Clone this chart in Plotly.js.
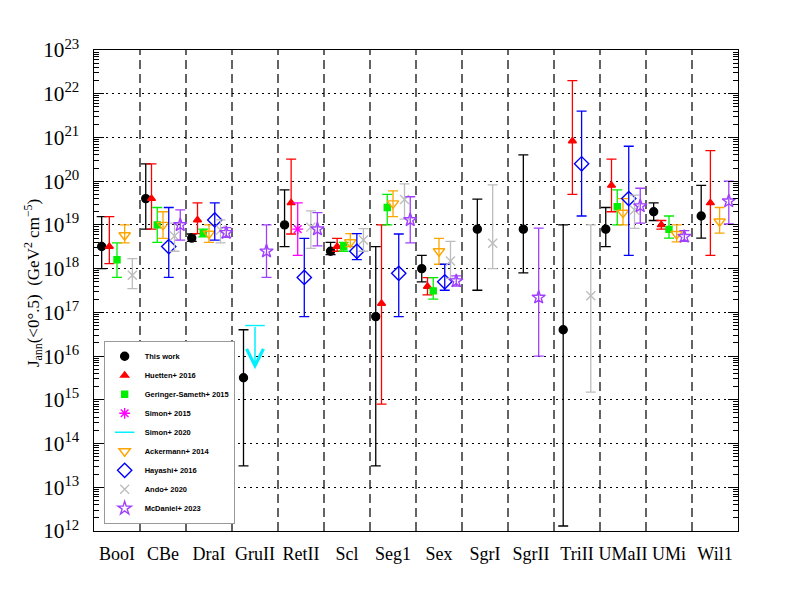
<!DOCTYPE html>
<html>
<head>
<meta charset="utf-8">
<script src="https://cdn.plot.ly/plotly-3.0.1.min.js"></script>
<style>
  body { margin: 0; background: #fff; }
  #chart { width: 792px; height: 612px; }
</style>
</head>
<body>
<div id="chart"></div>
<script>
// ── Data (null = no estimate for that galaxy) ───────────────────────────────

const categories = ['BooI', 'CBe', 'DraI', 'GruII', 'RetII', 'Scl', 'Seg1',
                    'Sex', 'SgrI', 'SgrII', 'TriII', 'UMaII', 'UMi', 'Wil1'];

const thisWork   = [3.2e18, 4.0e19, 5.0e18, 3.2e15, 1.0e19, 2.5e18, 8.0e16, 1.0e18, 8.0e18, 8.0e18, 4.0e16, 8.0e18, 2.0e19, 1.6e19];
const thisWorkLo = [1.0e18, 8.0e18, 4.2e18, 3.1e13, 3.2e18, 2.1e18, 3.1e13, 5.0e17, 3.2e17, 8.0e17, 1.3e12, 3.2e18, 1.26e19, 5.0e18];
const thisWorkHi = [1.55e19, 2.5e20, 6.2e18, 4.0e16, 6.3e19, 4.0e18, 3.2e18, 2.0e18, 3.9e19, 4.0e20, 1.0e19, 2.5e19, 3.2e19, 8.0e19];

const huetten   = [3.2e18, 4.0e19, 1.3e19, null, 3.2e19, 3.2e18, 1.6e17, 3.9e17, null, null, 8.3e20, 8.0e19, 1.0e19, 3.2e19];
const huettenLo = [1.3e18, 8.0e18, 6.3e18, null, 6.2e18, 2.5e18, 8.0e14, 2.5e17, null, null, 5.0e19, 2.0e19, 8.0e18, 2.0e18];
const huettenHi = [1.55e19, 2.5e20, 3.2e19, null, 3.2e20, 4.9e18, 1.0e19, 6.2e17, null, null, 2.0e22, 3.2e20, 1.26e19, 5.0e20];

const geringer   = [1.6e18, 1.0e19, 6.5e18, null, null, 3.2e18, 2.5e19, 3.1e17, null, null, null, 2.6e19, 7.9e18, null];
const geringerLo = [6.3e17, 4.0e18, 5.3e18, null, null, 2.5e18, 1.0e19, 2.0e17, null, null, null, 1.0e19, 5.0e18, null];
const geringerHi = [3.9e18, 2.5e19, 8.0e18, null, null, 4.0e18, 5.0e19, 6.2e17, null, null, null, 6.3e19, 1.6e19, null];

const simon15   = [null, null, null, null, 8.0e18, null, null, null, null, null, null, null, null, null];
const simon15Lo = [null, null, null, null, 2.0e18, null, null, null, null, null, null, null, null, null];
const simon15Hi = [null, null, null, null, 3.2e19, null, null, null, null, null, null, null, null, null];

// upper limit only
const simon20Ul = [null, null, null, 5.0e16, null, null, null, null, null, null, null, null, null, null];

const ackermann   = [5.8e18, 1.0e19, 6.3e18, null, null, 4.0e18, 3.1e19, 2.5e18, null, null, null, 1.9e19, 6.2e18, 1.2e19];
const ackermannLo = [3.9e18, 4.9e18, 4.0e18, null, null, 3.2e18, 1.55e19, 1.26e18, null, null, null, 1.0e19, 4.1e18, 6.5e18];
const ackermannHi = [1.0e19, 2.0e19, 1.0e19, null, null, 6.3e18, 6.0e19, 4.9e18, null, null, null, 4.0e19, 1.0e19, 2.5e19];

const hayashi   = [null, 3.2e18, 1.3e19, null, 6.3e17, 2.5e18, 7.8e17, 5.0e17, null, null, 2.5e20, 4.0e19, null, null];
const hayashiLo = [null, 6.3e17, 4.5e18, null, 8.0e16, 1.6e18, 8.0e16, 3.2e17, null, null, 1.6e19, 2.0e18, null, null];
const hayashiHi = [null, 2.5e19, 3.2e19, null, 4.9e18, 6.3e18, 6.2e18, 1.26e18, null, null, 4.0e21, 6.3e20, null, null];

const ando   = [7.1e17, 5.6e18, 7.6e18, null, 8.9e18, 4.5e18, 3.8e19, 1.5e18, 3.8e18, null, 2.4e17, 2.2e19, null, null];
const andoLo = [3.5e17, 2.5e18, 3.9e18, null, 2.9e18, 2.5e18, 1.35e19, 6.0e17, 1.0e18, null, 1.5e15, 8.3e18, null, null];
const andoHi = [1.7e18, 1.1e19, 1.3e19, null, 2.1e19, 8.2e18, 8.7e19, 4.2e18, 8.2e19, null, 1.0e19, 4.8e19, null, null];

const mcdaniel   = [null, 1.0e19, 6.6e18, 2.5e18, 8.0e18, null, 1.3e19, 5.2e17, null, 2.2e17, null, 2.7e19, 5.4e18, 3.5e19];
const mcdanielLo = [null, 4.5e18, 5.2e18, 6.3e17, 3.3e18, null, 3.9e18, 4.0e17, null, 1.0e16, null, 1.1e19, 4.2e18, 1.05e19];
const mcdanielHi = [null, 2.2e19, 8.7e18, 1.0e19, 1.9e19, null, 4.4e19, 6.8e17, null, 8.4e18, null, 6.9e19, 7.4e18, 1.0e20];

// ── Series styling (legend order = order inside each galaxy column) ────────

const SERIES = [
  { name: 'This work', val: thisWork, lo: thisWorkLo, hi: thisWorkHi,
    color: '#000000', symbol: 'circle', size: 8 },
  { name: 'Huetten+ 2016', val: huetten, lo: huettenLo, hi: huettenHi,
    color: '#ff0000', symbol: 'triangle-up', size: 7 },
  { name: 'Geringer-Sameth+ 2015', val: geringer, lo: geringerLo, hi: geringerHi,
    color: '#00ee00', symbol: 'square', size: 6 },
  { name: 'Simon+ 2015', val: simon15, lo: simon15Lo, hi: simon15Hi,
    color: '#ff00ff', symbol: 'asterisk-open', size: 9 },
  { name: 'Simon+ 2020', val: simon20Ul, upper: true,
    color: '#00f0ff', symbol: 'line-ew-open', size: 14 },
  { name: 'Ackermann+ 2014', val: ackermann, lo: ackermannLo, hi: ackermannHi,
    color: '#ffa500', symbol: 'triangle-down-open', size: 10 },
  { name: 'Hayashi+ 2016', val: hayashi, lo: hayashiLo, hi: hayashiHi,
    color: '#0000ff', symbol: 'diamond-open', size: 11 },
  { name: 'Ando+ 2020', val: ando, lo: andoLo, hi: andoHi,
    color: '#bdbdbd', symbol: 'x-thin-open', size: 9 },
  { name: 'McDaniel+ 2023', val: mcdaniel, lo: mcdanielLo, hi: mcdanielHi,
    color: '#a040ff', symbol: 'star-open', size: 10 },
];

const SERIF = 'Liberation Serif, Times New Roman, serif';

// ── Horizontal slot of each point: spread evenly over its galaxy column ───

function slotX(seriesIdx, catIdx) {
  const present = SERIES.filter(s => s.val[catIdx] != null);
  const k = present.indexOf(SERIES[seriesIdx]);
  return catIdx - 0.5 + (k + 1) / (present.length + 1);
}

const traces = [];
const annotations = [];

SERIES.forEach((s, si) => {
  const xs = [], ys = [], ep = [], em = [];
  s.val.forEach((v, ci) => {
    if (v == null) return;
    xs.push(slotX(si, ci));
    ys.push(v);
    if (!s.upper) {
      ep.push(s.hi[ci] - v);
      em.push(v - s.lo[ci]);
    }
  });

  const tr = {
    type: 'scatter', mode: 'markers',
    x: xs, y: ys, name: s.name,
    marker: {
      symbol: s.symbol, size: s.size, color: s.color,
      line: { color: s.color, width: 1.4 },
    },
    hovertemplate: s.name + ': %{y:.2e}<extra></extra>',
  };
  if (!s.upper) {
    tr.error_y = {
      type: 'data', symmetric: false, array: ep, arrayminus: em,
      color: s.color, thickness: 1.3, width: 5,
    };
  } else {
    // upper limit: arrow pointing one decade down from the cap
    xs.forEach((x, j) => {
      annotations.push({
        x: x, y: Math.log10(ys[j]) - 1, xref: 'x', yref: 'y',
        ax: x, ay: Math.log10(ys[j]), axref: 'x', ayref: 'y',
        text: '', showarrow: true, arrowhead: 5, arrowsize: 2.2,
        arrowwidth: 1.5, arrowcolor: s.color,
      });
    });
  }
  traces.push(tr);
});

// y-axis title placed as a paper annotation so it sits where the reference has it
annotations.push({
  xref: 'paper', yref: 'paper', x: -0.095, y: 0.515,
  xanchor: 'center', yanchor: 'middle', textangle: -90, showarrow: false,
  text: 'J<sub>ann</sub>(&lt;0°.5)&nbsp;&nbsp;(GeV<sup>2</sup> cm<sup>−5</sup>)',
  font: { family: SERIF, size: 17, color: '#000' },
});

// dashed separators between galaxy columns
const shapes = categories.slice(1).map((_, i) => ({
  type: 'line', xref: 'x', yref: 'paper',
  x0: i + 0.5, x1: i + 0.5, y0: 0, y1: 1,
  line: { color: '#222', width: 1.4, dash: '9px,5px' },
  layer: 'below',
}));

const layout = {
  width: 792, height: 612,
  margin: { l: 94, r: 54, t: 50, b: 81 },
  paper_bgcolor: '#fff', plot_bgcolor: '#fff',
  font: { family: SERIF, color: '#000' },
  showlegend: true,
  legend: {
    x: 0.015, y: 0.015, xanchor: 'left', yanchor: 'bottom',
    bgcolor: '#fff', bordercolor: '#999', borderwidth: 1,
    font: { family: 'Liberation Sans, Arial, sans-serif', size: 7.5, weight: 'bold' },
    itemwidth: 30,
  },
  xaxis: {
    range: [-0.5, categories.length - 0.5],
    tickvals: categories.map((_, i) => i), ticktext: categories,
    ticks: '', showgrid: false, zeroline: false,
    showline: true, mirror: true, linecolor: '#000', linewidth: 1.3,
    tickfont: { family: SERIF, size: 18 },
    ticklabelstandoff: 6,
  },
  yaxis: {
    type: 'log', range: [12, 23], dtick: 1,
    exponentformat: 'power',
    showline: true, mirror: 'allticks', linecolor: '#000', linewidth: 1.3,
    ticks: 'inside', ticklen: 10, tickcolor: '#000',
    minor: { ticks: 'inside', ticklen: 5, dtick: 'D1', tickcolor: '#000', showgrid: false },
    showgrid: true, gridcolor: '#000', gridwidth: 1, griddash: '2px,4px',
    zeroline: false,
    tickfont: { family: SERIF, size: 17 },
    ticklabelstandoff: 10,
  },
  shapes: shapes,
  annotations: annotations,
};

Plotly.newPlot('chart', traces, layout, { displayModeBar: false, staticPlot: true });
</script>
</body>
</html>
